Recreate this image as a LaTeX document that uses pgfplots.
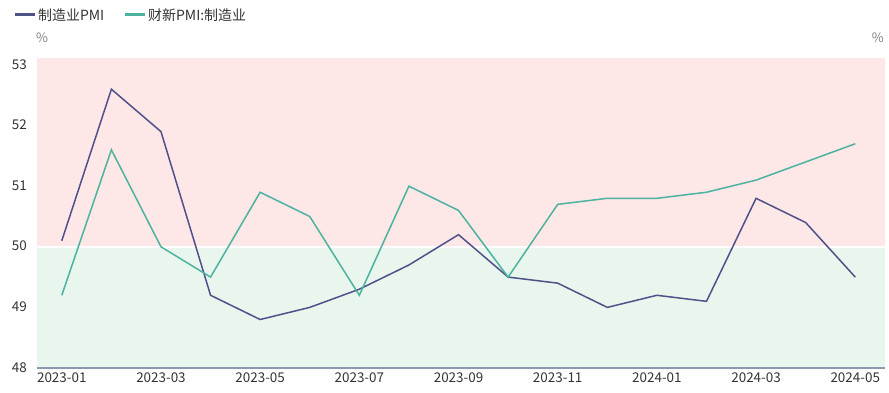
\documentclass[border=0pt]{standalone}
\usepackage{pgfplots}
\pgfplotsset{compat=1.18}
\usepackage{fontspec}
\setmainfont{Noto Sans CJK SC}
\definecolor{lineA}{HTML}{4F5189}
\definecolor{lineB}{HTML}{4BB39F}
\definecolor{bgR}{HTML}{FDE7E7}
\definecolor{bgG}{HTML}{E8F6EE}
\definecolor{axc}{HTML}{8A9BB0}
\definecolor{txt}{HTML}{333333}
\begin{document}
\begin{tikzpicture}[x=1bp,y=1bp]
\useasboundingbox (0,0) rectangle (889,392);
\begin{axis}[
  at={(37bp,24bp)}, anchor=south west,
  scale only axis, width=848bp, height=310bp,
  xmin=-0.5, xmax=16.6, ymin=48, ymax=53.115,
  axis on top,
  axis x line*=bottom, axis y line=none,
  x axis line style={draw=axc, line width=1.3bp, -},
  xtick={0,2,...,16},
  xticklabels={2023-01,2023-03,2023-05,2023-07,2023-09,2023-11,2024-01,2024-03,2024-05},
  ytick={48,...,53},
  major tick length=0pt,
  ymajorgrids, grid style={black, opacity=0.07, line width=0.8bp},
  tick label style={font=\fontsize{13.5}{15}\selectfont, text=txt},
  xticklabel style={anchor=north, inner sep=0pt, yshift=-5bp},
  /pgf/number format/assume math mode=true,
  clip=false,
]
\addplot[draw=none, fill=bgR] coordinates {(-0.5,50) (16.6,50) (16.6,53.115) (-0.5,53.115)} -- cycle;
\addplot[draw=none, fill=bgG] coordinates {(-0.5,48) (16.6,48) (16.6,50) (-0.5,50)} -- cycle;
\addplot[draw=white, line width=1.5bp] coordinates {(-0.5,50) (16.6,50)};
\addplot[lineA, line width=1.5bp] coordinates {
(0,50.1) (1,52.6) (2,51.9) (3,49.2) (4,48.8) (5,49.0) (6,49.3) (7,49.7) (8,50.2)
(9,49.5) (10,49.4) (11,49.0) (12,49.2) (13,49.1) (14,50.8) (15,50.4) (16,49.5)};
\addplot[lineB, line width=1.5bp] coordinates {
(0,49.2) (1,51.6) (2,50.0) (3,49.5) (4,50.9) (5,50.5) (6,49.2) (7,51.0) (8,50.6)
(9,49.5) (10,50.7) (11,50.8) (12,50.8) (13,50.9) (14,51.1) (15,51.4) (16,51.7)};
\end{axis}
\foreach \v/\yy in {48/368,49/307,50/246,51/186,52/125,53/65}
  \node[anchor=east, text=txt, font=\fontsize{13.5}{15}\selectfont, inner sep=0pt] at (27,392-\yy) {\v};
\node[anchor=west, text=gray, font=\fontsize{13}{15}\selectfont, inner sep=0pt] at (36,392-38) {\%};
\node[anchor=east, text=gray, font=\fontsize{13}{15}\selectfont, inner sep=0pt] at (884,392-38) {\%};
\draw[lineA, line width=3bp] (15,392-15) -- (35,392-15);
\node[anchor=west, text=txt, font=\fontsize{14}{16}\selectfont, inner sep=0pt] at (38,392-15) {制造业PMI};
\draw[lineB, line width=3bp] (125,392-15) -- (145,392-15);
\node[anchor=west, text=txt, font=\fontsize{14}{16}\selectfont, inner sep=0pt] at (148,392-15) {财新PMI:制造业};
\end{tikzpicture}
\end{document}
